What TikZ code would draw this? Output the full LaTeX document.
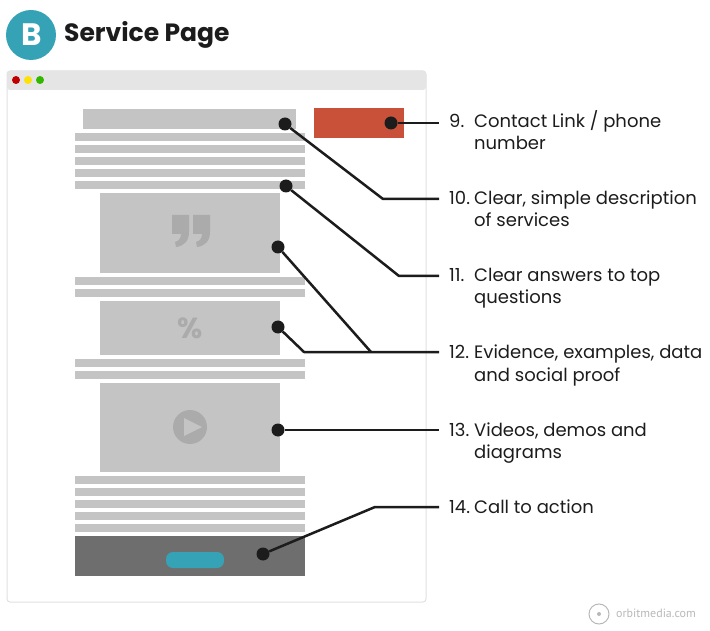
\documentclass[tikz,border=0pt]{standalone}
\usepackage{fontspec}
\setmainfont{Poppins}
\newfontfamily\logofont{PT Sans}
\definecolor{barfill}{HTML}{C4C4C4}
\definecolor{iconfill}{HTML}{ABABAB}
\definecolor{inkdark}{HTML}{1C1C1C}
\definecolor{tealfill}{HTML}{35A3B5}
\definecolor{redfill}{HTML}{C9513A}
\definecolor{framegray}{HTML}{E0E0E0}
\definecolor{logogray}{HTML}{B8B8B8}
\tikzset{
  dotnode/.style={circle,fill=inkdark,inner sep=0pt,minimum size=13pt},
  leader/.style={draw=inkdark,line width=2.5pt,line join=round},
  numlabel/.style={anchor=base west,inner sep=0pt,text=inkdark,font=\fontsize{18}{22}\selectfont},
  textlabel/.style={anchor=base west,inner sep=0pt,text=inkdark,align=left,font=\fontsize{18}{22}\selectfont},
}
\begin{document}
\begin{tikzpicture}[x=1pt,y=-1pt]
  \useasboundingbox (0,0) rectangle (710,631);
  % heading
  \fill[tealfill] (31,35) circle (25);
  \node[inner sep=0pt,text=white,font=\fontsize{31}{31}\selectfont\bfseries] (badge) at (32,35) {B};
  \node[anchor=west,inner sep=0pt,text=inkdark,font=\fontsize{25}{28}\selectfont\bfseries] (title) at (64,34.5) {Service Page};
  % browser window
  \draw[framegray,line width=1pt,rounded corners=3pt] (7,71) rectangle (426,602);
  \fill[framegray!85!white,rounded corners=3pt] (7,71) rectangle (426,90);
  \fill[red!75!black] (16,80) circle (4);
  \fill[yellow!85!orange] (28,80) circle (4);
  \fill[green!65!black!80!yellow] (40,80) circle (4);
  % page blocks
  \fill[barfill] (83,109) rectangle (296,129);
  \foreach \y in {133,145,157,169,181,277,289,359,371,476,488,500,512,524}
    \fill[barfill] (75,\y) rectangle (305,\y+8);
  \fill[barfill] (100,193) rectangle (280,273);
  \fill[barfill] (100,301) rectangle (280,355);
  \fill[barfill] (100,383) rectangle (280,472);
  \fill[black!57] (75,536) rectangle (305,576);
  \fill[tealfill,rounded corners=7pt] (166,552) rectangle (224,568);
  \fill[redfill] (314,108) rectangle (404,138);
  % icons
  \foreach \dx in {0,21}
    \fill[iconfill,shift={(\dx,0)}] (172,215) -- (189,215) -- (189,232)
      .. controls (189,241) and (184,246) .. (176,247) -- (175,242)
      .. controls (179,241) and (181,238) .. (181,234) -- (172,234) -- cycle;
  \node[inner sep=0pt,text=iconfill,font=\fontsize{29}{29}\selectfont\bfseries] (pct) at (190,328) {\%};
  \fill[iconfill] (190,427) circle (17);
  \fill[barfill] (184,418) -- (184,436) -- (202,427) -- cycle;
  % markers
  \node[dotnode] (d9) at (391,123) {};
  \node[dotnode] (d10) at (285,124) {};
  \node[dotnode] (d11) at (286,186) {};
  \node[dotnode] (d12a) at (278,247) {};
  \node[dotnode] (d12b) at (278,327) {};
  \node[dotnode] (d13) at (278,430) {};
  \node[dotnode] (d14) at (263,554) {};
  % labels
  \node[numlabel] (n9) at (449,128) {9.};
  \node[textlabel] (t9) at (474,150) {Contact Link / phone\\number};
  \node[numlabel] (n10) at (449,205) {10.};
  \node[textlabel] (t10) at (474,227) {Clear, simple description\\of services};
  \node[numlabel] (n11) at (449,282) {11.};
  \node[textlabel] (t11) at (474,304) {Clear answers to top\\questions};
  \node[numlabel] (n12) at (449,359) {12.};
  \node[textlabel] (t12) at (474,381) {Evidence, examples, data\\and social proof};
  \node[numlabel] (n13) at (449,436) {13.};
  \node[textlabel] (t13) at (474,458) {Videos, demos and\\diagrams};
  \node[numlabel] (n14) at (449,513) {14.};
  \node[textlabel] (t14) at (474,513) {Call to action};
  % connector ends and bends
  \coordinate (e9) at (439,123);
  \coordinate (b10) at (383,199);
  \coordinate (e10) at (439,199);
  \coordinate (b11) at (399,276);
  \coordinate (e11) at (439,276);
  \coordinate (b12a) at (371,352);
  \coordinate (b12b) at (304,352);
  \coordinate (e12) at (439,352);
  \coordinate (e13) at (439,430);
  \coordinate (b14) at (375,507);
  \coordinate (e14) at (439,507);
  \begin{scope}[leader]
    \draw (d9) to (e9);
    \draw (d10) -- (b10) -- (e10);
    \draw (d11) -- (b11) -- (e11);
    \draw (d12a) -- (b12a);
    \draw (d12b) -- (b12b) -- (e12);
    \draw (d13) to (e13);
    \draw (d14) -- (b14) -- (e14);
  \end{scope}
  % logo
  \draw[logogray,line width=1pt] (599,614) circle (10);
  \fill[logogray] (599,614) circle (2);
  \node[anchor=west,inner sep=0pt,text=logogray,font=\logofont\fontsize{12}{14}\selectfont] (logo) at (616,613) {orbitmedia.com};
\end{tikzpicture}
\end{document}
